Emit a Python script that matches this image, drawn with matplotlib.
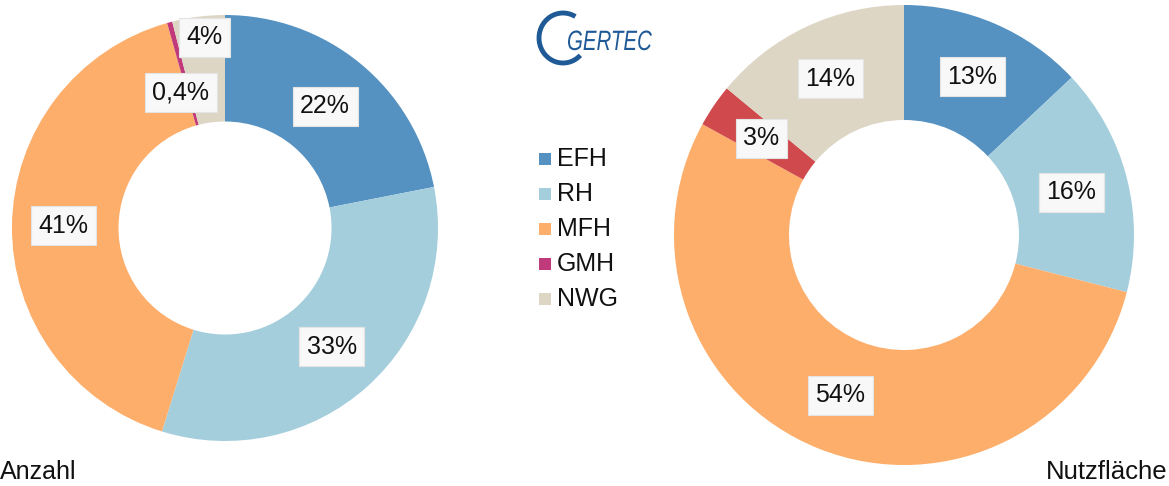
import numpy as np
import matplotlib.pyplot as plt
from matplotlib.patches import Arc, PathPatch
from matplotlib.textpath import TextPath
from matplotlib.font_manager import FontProperties
from matplotlib.transforms import Affine2D

categories = ["EFH", "RH", "MFH", "GMH", "NWG"]
anzahl = [22, 33, 41, 0.4, 4]
anzahl_labels = ["22%", "33%", "41%", "0,4%", "4%"]
nutzflaeche = [13, 16, 54, 3, 14]
nutzflaeche_labels = ["13%", "16%", "54%", "3%", "14%"]

colors_left = ["#5592C2", "#A5CEDD", "#FDAE6B", "#C0397A", "#DDD6C5"]
colors_right = ["#5592C2", "#A5CEDD", "#FDAE6B", "#D04A4D", "#DDD6C5"]

W, H = 1169, 486
fig = plt.figure(figsize=(W / 100, H / 100), dpi=100)
plt.rcParams['font.family'] = ['Liberation Sans', 'DejaVu Sans']


def donut(cx, cy, r, values, labels, colors, label_r, label_dang):
    # cx, cy in pixels from top-left
    ax = fig.add_axes([(cx - r) / W, (H - cy - r) / H, 2 * r / W, 2 * r / H])
    ax.pie(values, colors=colors, startangle=90, counterclock=False,
           radius=1.0, wedgeprops=dict(width=0.5, linewidth=0))
    total = sum(values)
    start = 0.0
    for v, lab, lr, da in zip(values, labels, label_r, label_dang):
        mid = (start + v / 2) / total * 360 + da
        start += v
        x = lr * np.sin(np.radians(mid))
        y = lr * np.cos(np.radians(mid))
        ax.text(x, y, lab, ha="center", va="center", fontsize=18, color="#111111",
                bbox=dict(boxstyle="square,pad=0.3", facecolor="#f8f8f8",
                          edgecolor="#e4e4e4", linewidth=0.8))
    ax.set_xlim(-1, 1)
    ax.set_ylim(-1, 1)
    ax.set_aspect("equal")
    ax.axis("off")
    return ax


donut(225, 228, 213, anzahl, anzahl_labels, colors_left,
      [0.74, 0.75, 0.76, 0.67, 0.9], [0, 0, 0, -3, 1])
donut(904, 235, 230, nutzflaeche, nutzflaeche_labels, colors_right,
      [0.75, 0.75, 0.75, 0.75, 0.75], [0, 0, 0, 0, 0])

fig.text(0 / W, 1 - 472 / H, "Anzahl", fontsize=18, ha="left", va="center", color="#111111")
fig.text(1167 / W, 1 - 472 / H, "Nutzfläche", fontsize=18.5, ha="right", va="center", color="#111111")

# legend
for i, (cat, col) in enumerate(zip(categories, colors_left)):
    y = 159 + i * 35
    fig.patches.append(plt.Rectangle((539 / W, 1 - (y + 6) / H), 12 / W, 12 / H,
                                     transform=fig.transFigure, facecolor=col,
                                     edgecolor="none"))
    fig.text(557 / W, 1 - y / H, cat, fontsize=18, ha="left", va="center", color="#111111")

# logo (pixel coords, y pointing down)
lax = fig.add_axes([0, 0, 1, 1], facecolor="none")
lax.set_xlim(0, W)
lax.set_ylim(H, 0)
lax.axis("off")
lax.add_patch(Arc((563, 38), 48, 50, theta1=45, theta2=300, color="#1F5A96", linewidth=3.5))
tp = TextPath((0, 0), "GERTEC", size=28,
              prop=FontProperties(family="Liberation Sans", style="italic"))
tp = Affine2D().scale(0.73, -1).translate(567, 50).transform_path(tp)
lax.add_patch(PathPatch(tp, facecolor="#1F5A96", edgecolor="none"))

fig.savefig("out.png", dpi=100)
